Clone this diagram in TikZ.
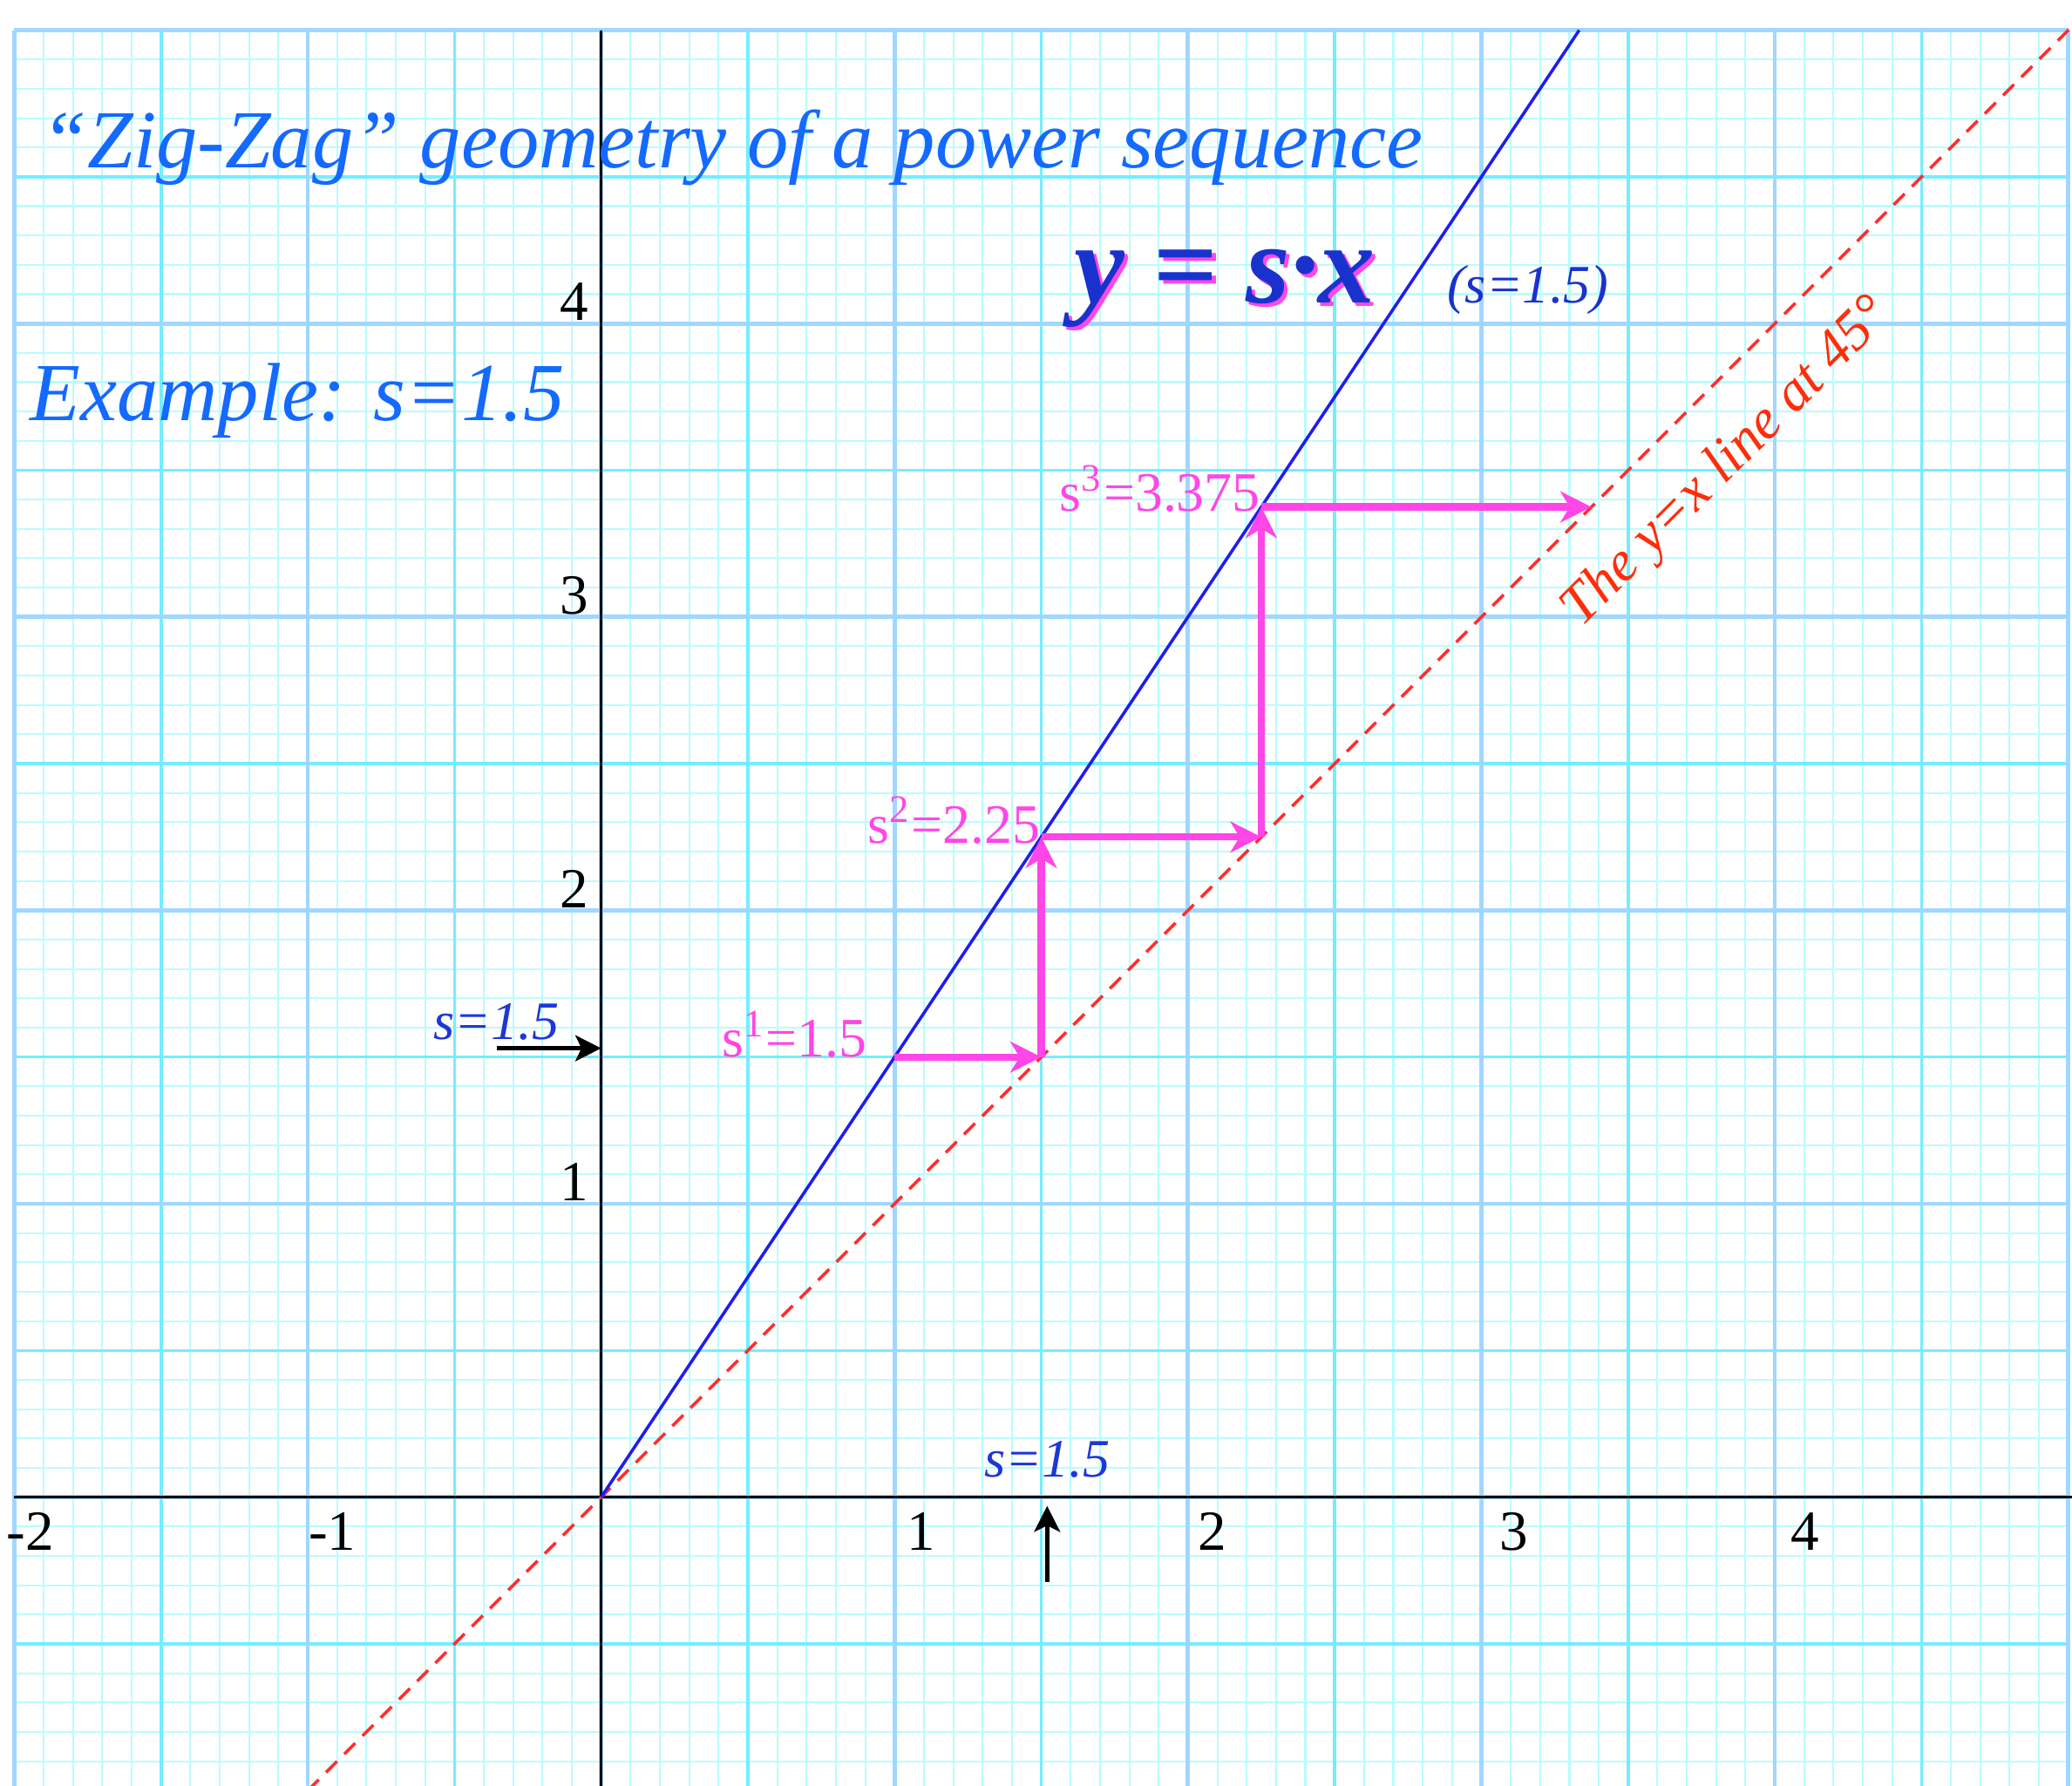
\documentclass[tikz,border=0pt]{standalone}
\usepackage{fontspec}
\setmainfont{Liberation Serif}
\usepackage{xcolor}
\usetikzlibrary{arrows.meta, positioning}

\definecolor{gridcyan}{RGB}{185,252,255}
\definecolor{gridmid}{RGB}{115,238,255}
\definecolor{gridblue}{RGB}{160,215,255}
\definecolor{lineblue}{RGB}{30,30,235}
\definecolor{diagred}{RGB}{255,45,45}
\definecolor{zigpink}{RGB}{255,70,230}
\definecolor{titleblue}{RGB}{20,105,255}
\definecolor{eqblue}{RGB}{26,50,205}
\definecolor{labelblue}{RGB}{30,55,215}
\definecolor{textred}{RGB}{255,45,10}

\begin{document}
\begin{tikzpicture}[x=2cm, y=2cm,
    minorgrid/.style={draw=gridcyan, line width=0.35pt},
    halfgrid/.style={draw=gridmid, line width=0.6pt},
    unitgrid/.style={draw=gridblue, line width=0.8pt},
    axis/.style={draw=black, line width=0.6pt},
    slopeline/.style={draw=lineblue, line width=0.6pt},
    diagline/.style={draw=diagred, line width=0.6pt, dash pattern=on 3pt off 2pt},
    zigarrow/.style={draw=zigpink, line width=1.4pt, -{Stealth[length=6pt, width=6pt, inset=1.8pt]}},
    pointer/.style={draw=black, line width=0.9pt, -{Stealth[length=5pt, width=5pt, inset=1.2pt]}},
    ticklabel/.style={inner sep=0pt, font=\fontsize{11}{13}\selectfont},
    powerlabel/.style={inner sep=0pt, anchor=base east, text=zigpink, font=\fontsize{10.8}{13}\selectfont},
    slabel/.style={inner sep=0pt, text=labelblue, font=\fontsize{10.5}{12}\selectfont\itshape},
    heading/.style={inner sep=0pt, anchor=base west, text=titleblue, font=\fontsize{16}{19}\selectfont\itshape},
    eqtext/.style={inner sep=0pt, anchor=base west, font=\fontsize{22}{26}\selectfont\bfseries\itshape},
    paramlabel/.style={inner sep=0pt, anchor=base west, text=eqblue, font=\fontsize{10.5}{12}\selectfont\itshape},
    diaglabel/.style={inner sep=0pt, anchor=base west, text=textred, font=\fontsize{11}{13}\selectfont\itshape}
]
    \useasboundingbox (-2.049,-0.984) rectangle (5.013,5.103);
    \clip (-2.049,-0.984) rectangle (5.013,5.103);

    % graph paper
    \draw[minorgrid, step=0.1] (-2,-1) grid (5,5);
    \draw[halfgrid, step=0.5] (-2,-1) grid (5,5);
    \draw[unitgrid, step=1] (-2,-1) grid (5,5);

    % axes
    \coordinate (O) at (0,0);
    \draw[axis] (-2,0) -- (5.1,0);
    \draw[axis] (0,-1) -- (0,5);
    \foreach \v/\t in {-2.03/-2,-1/-1,1.04/1,2.03/2,3.06/3,4.05/4} {
        \node[ticklabel, anchor=base west] (xlab\t) at (\v,-0.18) {\t};
    }
    \foreach \k in {1,...,4} {
        \node[ticklabel, anchor=base east] (ylab\k) at (-0.04,\k+0.01) {\k};
    }

    % the two lines
    \coordinate (slopeend) at (3.3333,5);
    \coordinate (diagfrom) at (-1,-1);
    \coordinate (diagto) at (5.1,5.1);
    \draw[diagline] (diagfrom) -- (diagto);
    \draw[slopeline] (O) -- (slopeend);

    % zig-zag of the powers
    \coordinate (p1) at (1,1.5);
    \coordinate (q1) at (1.5,1.5);
    \coordinate (p2) at (1.5,2.25);
    \coordinate (q2) at (2.25,2.25);
    \coordinate (p3) at (2.25,3.375);
    \coordinate (q3) at (3.375,3.375);
    \draw[zigarrow] (p1) -- (q1);
    \draw[zigarrow] (q1) -- (p2);
    \draw[zigarrow] (p2) -- (q2);
    \draw[zigarrow] (q2) -- (p3);
    \draw[zigarrow] (p3) -- (q3);
    \node[powerlabel] (pow1) at (0.91,1.5) {s\textsuperscript{1}=1.5};
    \node[powerlabel] (pow2) at (1.5,2.23) {s\textsuperscript{2}=2.25};
    \node[powerlabel] (pow3) at (2.25,3.36) {s\textsuperscript{3}=3.375};

    % s marked on both axes
    \coordinate (syfrom) at (-0.355,1.53);
    \coordinate (syto) at (0,1.53);
    \draw[pointer] (syfrom) -- (syto);
    \node[slabel, anchor=base east] (sy) at (-0.14,1.56) {s=1.5};
    \coordinate (sxfrom) at (1.52,-0.29);
    \coordinate (sxto) at (1.52,-0.03);
    \draw[pointer] (sxfrom) -- (sxto);
    \node[slabel, anchor=base] (sx) at (1.52,0.07) {s=1.5};

    % texts
    \node[heading] (title) at (-1.91,4.53) {“Zig-Zag” geometry of a power sequence};
    \node[heading] (example) at (-1.95,3.67) {Example: s=1.5};
    \node[eqtext, text=zigpink, xshift=0.7pt, yshift=-0.7pt] (eqshadow) at (1.61,4.07) {y = s·x};
    \node[eqtext, text=eqblue] (eqn) at (1.61,4.07) {y = s·x};
    \node[paramlabel] (param) at (2.88,4.07) {(s=1.5)};
    \node[diaglabel, rotate=45] (diagtext) at (3.34,2.96) {The y=x line at 45°};
\end{tikzpicture}
\end{document}
